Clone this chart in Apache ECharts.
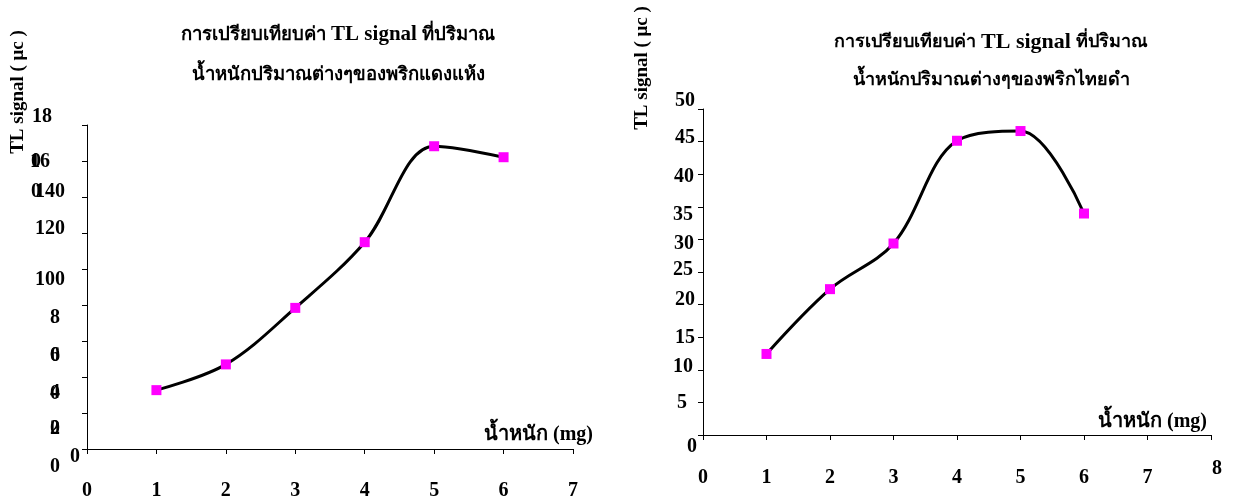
<!DOCTYPE html>
<html>
<head>
<meta charset="utf-8">
<title>TL signal</title>
<script src="https://cdn.jsdelivr.net/npm/echarts@6/dist/echarts.min.js"></script>
<style>
  html, body { margin: 0; padding: 0; background: #fff; }
  #chart { width: 1236px; height: 501px; }
</style>
</head>
<body>
<div id="chart"></div>
<script>
  // weights (mg)
  const weights = [1, 2, 3, 4, 5, 6];
  // TL signal, dried red chili (left) and black thai chili (right)
  const redChili = [3.27, 4.70, 7.84, 11.49, 16.82, 16.21];
  const blackChili = [12.43, 22.37, 29.37, 45.13, 46.62, 33.97];

  // tick labels as printed on the original (the left one is garbled)
  const leftYTicks = [0, 2, 4, 6, 8, 10, 12, 14, 16, 18];
  const leftYLabels = ['0', '2', '4', '6', '8', '100', '120', '140', '16', '18'];
  const rightYTicks = [0, 5, 10, 15, 20, 25, 30, 35, 40, 45, 50];
  const leftXLabels = ['0', '1', '2', '3', '4', '5', '6', '7'];
  const rightXLabels = ['0', '1', '2', '3', '4', '5', '6', '7', '8'];

  const titleA = 'การเปรียบเทียบค่า';
  const titleB = 'TL signal';
  const titleC = 'ที่ปริมาณ';
  const leftTitle2 = 'น้ำหนักปริมาณต่างๆของพริกแดงแห้ง';
  const rightTitle2 = 'น้ำหนักปริมาณต่างๆของพริกไทยดำ';
  const yName = 'TL signal ( μc )';
  const xName = 'น้ำหนัก (mg)';

  const FONT = '"Liberation Serif", "Times New Roman", serif';
  const txt = { fontFamily: FONT, fontWeight: 'bold', fontSize: 20, color: '#000' };

  // label nudges [down, left] per tick, the printed labels do not sit on the ticks
  const leftNudge = { 0: [18, 5], 2: [16, 5], 4: [16, 5], 6: [15, 5], 8: [13, 5], 10: [11, 0], 12: [-4, 0], 14: [-5, 0], 16: [1, 15], 18: [-8, 13] };
  const rightNudge = { 0: [12, -2], 5: [0, 8], 10: [-3, 2], 15: [1, 0], 20: [-5, 0], 25: [-2, 2], 30: [4, 1], 35: [8, 2], 40: [3, 1], 45: [-4, 0], 50: [-8, 0] };

  function richFor(ticks, nudge) {
    const rich = {};
    ticks.forEach(function (t) {
      const n = nudge[t] || [0, 0];
      const d = n[0];
      rich['t' + t] = Object.assign({}, txt, {
        padding: [d > 0 ? 2 * d : 0, n[1], d < 0 ? -2 * d : 0, 0]
      });
    });
    return rich;
  }

  function titleRich(thSize, enSize, lh) {
    return {
      th: Object.assign({}, txt, { fontSize: thSize, lineHeight: lh }),
      en: Object.assign({}, txt, { fontSize: enSize, lineHeight: lh })
    };
  }

  function pairs(ys) {
    return weights.map(function (w, i) { return [w, ys[i]]; });
  }

  function stray(x, y) {
    return { type: 'text', x: x, y: y, style: { text: '0', fill: '#000', font: 'bold 20px ' + FONT, align: 'center', verticalAlign: 'middle' } };
  }

  const axisLine = { show: true, lineStyle: { color: '#000', width: 1 } };
  const axisTick = { show: true, length: 5, lineStyle: { color: '#000' } };

  const chart = echarts.init(document.getElementById('chart'), null, { renderer: 'canvas' });

  const option = {
    backgroundColor: '#fff',
    animation: false,
    title: [
      {
        text: '{th|' + titleA + '} {en|' + titleB + '} {th|' + titleC + '}\n{th|' + leftTitle2 + '}',
        left: 333, top: 10, textAlign: 'center',
        textStyle: { rich: titleRich(18.5, 21, 40) }
      },
      {
        text: '{th|' + titleA + '} {en|' + titleB + '} {th|' + titleC + '}\n{th|' + rightTitle2 + '}',
        left: 986, top: 18, textAlign: 'center',
        textStyle: { rich: titleRich(18, 22, 38) }
      }
    ],
    grid: [
      { left: 87, top: 125, width: 486, height: 324 },
      { left: 703, top: 109, width: 508, height: 326 }
    ],
    xAxis: [
      {
        gridIndex: 0, type: 'value', min: 0, max: 7, interval: 1,
        splitLine: { show: false }, axisLine: axisLine, axisTick: axisTick,
        axisLabel: Object.assign({}, txt, { margin: 32, formatter: function (v) { return leftXLabels[v]; } }),
        name: xName, nameLocation: 'end', nameGap: 20,
        nameTextStyle: Object.assign({}, txt, { align: 'right', verticalAlign: 'bottom', padding: [0, 0, 4, 0] })
      },
      {
        gridIndex: 1, type: 'value', min: 0, max: 8, interval: 1,
        splitLine: { show: false }, axisLine: axisLine, axisTick: axisTick,
        axisLabel: {
          margin: 24,
          formatter: function (v) { return v === 8 ? '{hi|8}' : '{n|' + rightXLabels[v] + '}'; },
          rich: {
            n: Object.assign({}, txt, { padding: [9, 0, 0, 0] }),
            hi: Object.assign({}, txt, { padding: [0, 0, 0, 12] })
          }
        },
        name: xName, nameLocation: 'end', nameGap: -4,
        nameTextStyle: Object.assign({}, txt, { align: 'right', verticalAlign: 'bottom', padding: [0, 0, 3, 0] })
      }
    ],
    yAxis: [
      {
        gridIndex: 0, type: 'value', min: 0, max: 18, interval: 2,
        splitLine: { show: false }, axisLine: axisLine, axisTick: axisTick,
        axisLabel: {
          margin: 22,
          formatter: function (v) { return '{t' + v + '|' + leftYLabels[leftYTicks.indexOf(v)] + '}'; },
          rich: richFor(leftYTicks, leftNudge)
        }
      },
      {
        gridIndex: 1, type: 'value', min: 0, max: 50, interval: 5,
        splitLine: { show: false }, axisLine: axisLine, axisTick: axisTick,
        axisLabel: {
          margin: 8,
          formatter: function (v) { return '{t' + v + '|' + v + '}'; },
          rich: richFor(rightYTicks, rightNudge)
        }
      }
    ],
    graphic: [
      { type: 'text', x: 18, y: 92, rotation: Math.PI / 2,
        style: { text: yName, fill: '#000', font: 'bold 19px ' + FONT, align: 'center', verticalAlign: 'middle' } },
      { type: 'text', x: 642, y: 68, rotation: Math.PI / 2,
        style: { text: yName, fill: '#000', font: 'bold 19px ' + FONT, align: 'center', verticalAlign: 'middle' } },
      // stray zeros printed over the left axis labels
      stray(36, 192),
      stray(36, 162),
      stray(75, 457),
      stray(55, 356),
      stray(55, 394),
      stray(55, 429)
    ],
    series: [
      {
        type: 'line', xAxisIndex: 0, yAxisIndex: 0,
        data: pairs(redChili), smooth: 0.35,
        lineStyle: { color: '#000', width: 3 },
        symbol: 'rect', symbolSize: 10,
        itemStyle: { color: '#FF00FF' }
      },
      {
        type: 'line', xAxisIndex: 1, yAxisIndex: 1,
        data: pairs(blackChili), smooth: 0.35,
        lineStyle: { color: '#000', width: 3 },
        symbol: 'rect', symbolSize: 10,
        itemStyle: { color: '#FF00FF' }
      }
    ]
  };

  chart.setOption(option);
</script>
</body>
</html>
